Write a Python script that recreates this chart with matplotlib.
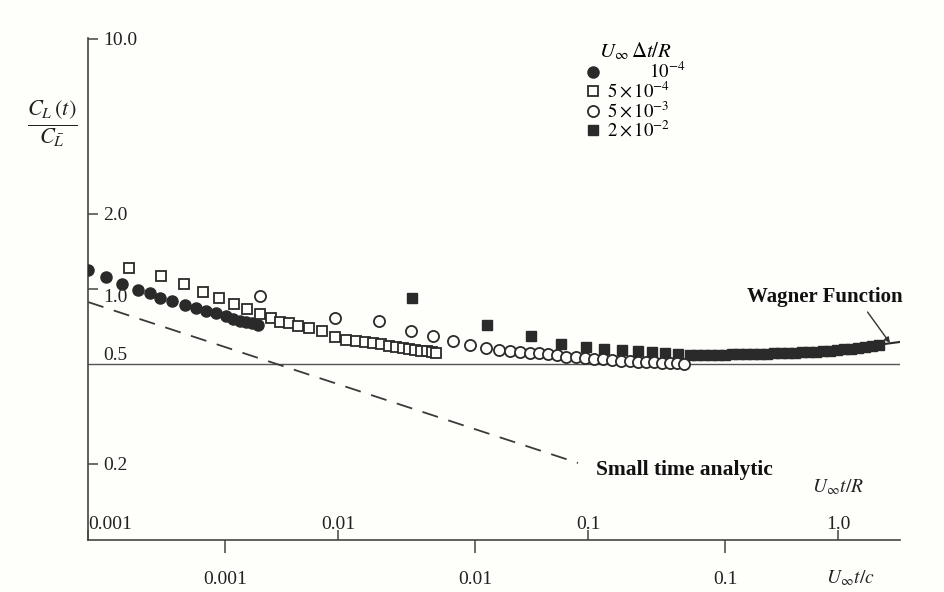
import matplotlib
matplotlib.use('Agg')
import matplotlib.pyplot as plt
from matplotlib.ticker import NullLocator

# U_inf dt/R = 1e-4 (filled circles)
fc_x = [0.00100, 0.00118, 0.001368, 0.001585, 0.00177, 0.001941, 0.002168, 0.002443, 0.002704,
        0.002965, 0.003251, 0.003565, 0.003802, 0.004055, 0.004285, 0.004529, 0.004786]
fc_y = [1.191, 1.117, 1.047, 0.991, 0.964, 0.920, 0.895, 0.863, 0.839,
        0.817, 0.802, 0.780, 0.759, 0.745, 0.738, 0.731, 0.718]

# 5e-4 (open squares)
osq_x = [0.001459, 0.001959, 0.002421, 0.002884, 0.003342, 0.003837, 0.004325, 0.004875, 0.005395,
         0.005861, 0.006368, 0.006918, 0.007656, 0.00863, 0.009727, 0.01076, 0.0118, 0.01282,
         0.0138, 0.01486, 0.016, 0.01706, 0.0182, 0.01923, 0.02032, 0.02148, 0.0227, 0.02377, 0.02466]
osq_y = [1.213, 1.127, 1.047, 0.973, 0.920, 0.871, 0.832, 0.794, 0.766,
         0.738, 0.731, 0.711, 0.698, 0.679, 0.643, 0.625, 0.620, 0.614,
         0.608, 0.603, 0.592, 0.587, 0.581, 0.575, 0.570, 0.565, 0.565, 0.560, 0.555]

# 5e-3 (open circles)
oc_x = [0.004875, 0.009727, 0.01459, 0.01959, 0.02399, 0.02884, 0.03373, 0.03908, 0.04406, 0.04875,
        0.05346, 0.05861, 0.06368, 0.06918, 0.07516, 0.08166, 0.08954, 0.09727, 0.1057, 0.1148,
        0.1247, 0.1355, 0.1472, 0.1585, 0.1706, 0.1837, 0.1977, 0.2128, 0.227, 0.2421]
oc_y = [0.938, 0.766, 0.745, 0.679, 0.649, 0.620, 0.597, 0.581, 0.570, 0.565,
        0.560, 0.555, 0.555, 0.550, 0.545, 0.535, 0.535, 0.530, 0.525, 0.525,
        0.520, 0.515, 0.515, 0.511, 0.511, 0.511, 0.506, 0.506, 0.506, 0.501]

# 2e-2 (filled squares), merging into the Wagner curve at large time
fsq_x = [0.01977, 0.03945, 0.05916, 0.07798, 0.09817, 0.1159, 0.1368, 0.1585, 0.1803, 0.2032, 0.2291,
         0.2559, 0.2729, 0.2911, 0.3105, 0.3311, 0.3532, 0.3767, 0.4018, 0.4285, 0.4571,
         0.4875, 0.52, 0.5546, 0.5916, 0.631, 0.673, 0.7178, 0.7656, 0.8166, 0.871,
         0.929, 0.9908, 1.057, 1.127, 1.202, 1.282, 1.368, 1.459]
fsq_y = [0.920, 0.718, 0.649, 0.603, 0.587, 0.575, 0.570, 0.565, 0.560, 0.555, 0.550,
         0.545, 0.545, 0.545, 0.545, 0.545, 0.545, 0.550, 0.550, 0.550, 0.550,
         0.550, 0.550, 0.555, 0.555, 0.555, 0.555, 0.560, 0.560, 0.560, 0.565,
         0.565, 0.570, 0.575, 0.575, 0.581, 0.587, 0.592, 0.597]

# Wagner function and small time analytic solution
wagner_x = [0.2559, 0.7178, 1.225, 1.542, 1.77]
wagner_y = [0.545, 0.560, 0.581, 0.603, 0.614]
analytic_x = [0.001, 0.0912]
analytic_y = [0.887, 0.2014]

legend_labels = ['         $10^{-4}$', r'$5\times10^{-4}$', r'$5\times10^{-3}$', r'$2\times10^{-2}$']
ytick_vals = [10.0, 2.0, 1.0, 0.2]
ytick_text = ['10.0', '2.0', '1.0', '0.2']
xR_ticks = [0.001, 0.01, 0.1, 1.0]
xR_text = ['0.001', '0.01', '0.1', '1.0']
xc_ticks = [0.001, 0.01, 0.1]
xc_text = ['0.001', '0.01', '0.1']
c_over_R = 3.54

plt.rcParams['font.family'] = 'Liberation Serif'
plt.rcParams['mathtext.fontset'] = 'stix'

ink = '#2a2a2a'
bg = '#fefefb'

fig = plt.figure(figsize=(9.45, 5.92), dpi=100, facecolor=bg)
ax = fig.add_axes([88 / 945, 52 / 592, 812 / 945, 502 / 592], facecolor=bg)
ax.set_xscale('log')
ax.set_yscale('log')
ax.set_xlim(0.001, 1.77)
ax.set_ylim(0.0991, 10.09)

ax.axhline(0.5, color='#555555', lw=1.0, zorder=1)
ax.plot(analytic_x, analytic_y, color='#3a3a3a', lw=1.3, dashes=(9, 6))
ax.plot(wagner_x, wagner_y, color=ink, lw=1.5, zorder=2)

h1, = ax.plot(fc_x, fc_y, 'o', ms=8, color=ink, mec=ink, zorder=3)
h2, = ax.plot(osq_x, osq_y, 's', ms=7.5, mfc=bg, mec=ink, mew=1.3, zorder=3)
h3, = ax.plot(oc_x, oc_y, 'o', ms=8, mfc=bg, mec=ink, mew=1.3, zorder=4)
h4, = ax.plot(fsq_x, fsq_y, 's', ms=7.5, color=ink, mec=ink, zorder=3)

leg = ax.legend([h1, h2, h3, h4], legend_labels, title=r'$U_\infty\,\Delta t/R$',
                loc='upper left', bbox_to_anchor=(0.597, 1.02), frameon=False,
                fontsize=13.5, title_fontsize=15, handlelength=0.75, handletextpad=0.35,
                labelspacing=-0.04, borderpad=0.2)

for s in ['top', 'right']:
    ax.spines[s].set_visible(False)
for s in ['left', 'bottom']:
    ax.spines[s].set_color('#444444')
    ax.spines[s].set_linewidth(1.2)

# y ticks drawn inside, labels to the right of the axis
ax.yaxis.set_minor_locator(NullLocator())
ax.set_yticks(ytick_vals, ytick_text)
ax.tick_params(axis='y', direction='in', length=7, width=1.1, color='#444444',
               labelsize=14, pad=-11, labelcolor='#222222')
for lbl in ax.get_yticklabels():
    lbl.set_ha('left')
ax.get_yticklabels()[2].set_va('top')

# U_inf t/R ticks above the axis line
ax.xaxis.set_minor_locator(NullLocator())
ax.set_xticks(xR_ticks, xR_text)
ax.tick_params(axis='x', direction='in', length=7, width=1.1, color='#444444',
               labelsize=14, pad=-17, labelcolor='#222222')
ax.get_xticklabels()[0].set_ha('left')

# U_inf t/c ticks below the axis line
sec = ax.secondary_xaxis('bottom', functions=(lambda x: x / c_over_R, lambda x: x * c_over_R))
sec.xaxis.set_minor_locator(NullLocator())
sec.set_xticks(xc_ticks, xc_text)
sec.tick_params(axis='x', direction='out', length=9, width=1.1, color='#444444',
                labelsize=14, pad=13, labelcolor='#222222')
sec.spines['bottom'].set_visible(False)

ax.text(0.00115, 0.5, '0.5', fontsize=14, color='#222222', ha='left', va='bottom')
ax.text(1.0, 0.161, r'$U_\infty t/R$', fontsize=14, color='#222222', ha='center', va='center')
ax.text(1.117, -0.075, r'$U_\infty t/c$', fontsize=14, color='#222222', ha='center', va='center',
        transform=ax.get_xaxis_transform())
ax.text(0.108, 0.189, 'Small time analytic', fontsize=15.5, fontweight='bold', color='#111111',
        ha='left', va='center')
ax.annotate('Wagner Function', xy=(1.614, 0.608), xytext=(0.887, 0.929), fontsize=15,
            fontweight='bold', color='#111111', ha='center', va='center',
            arrowprops=dict(arrowstyle='-|>', color='#333333', lw=1.0, mutation_scale=8,
                            relpos=(0.75, 0.0), shrinkA=2, shrinkB=0))

fig.text(52 / 945, 1 - 123 / 592, r'$\frac{C_L\,(t)}{C_{\bar{L}}}$', fontsize=23,
         color='#222222', ha='center', va='center')

fig.savefig('out.png', dpi=100, facecolor=bg)
